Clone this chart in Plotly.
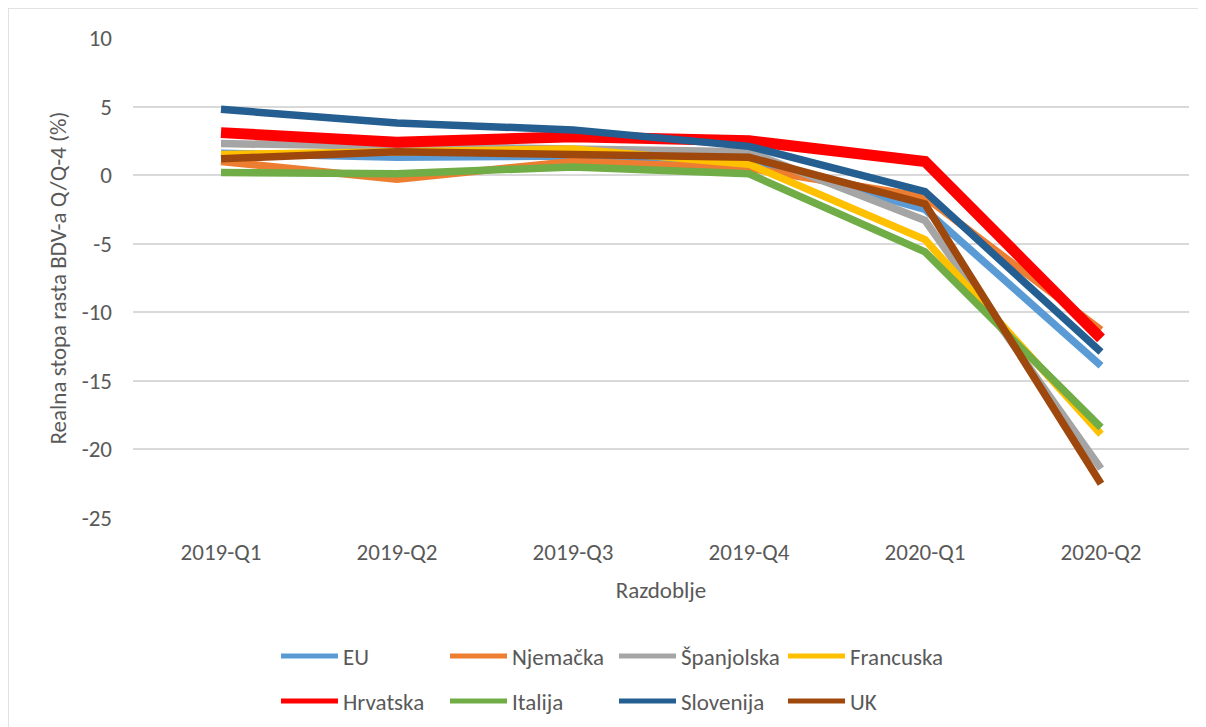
import plotly.graph_objects as go

# razdoblja (kategorije na x osi)
razdoblja = ["2019-Q1", "2019-Q2", "2019-Q3", "2019-Q4", "2020-Q1", "2020-Q2"]

# realna stopa rasta BDV-a Q/Q-4 (%), očitano sa slike
eu = [1.6, 1.3, 1.4, 1.1, -2.5, -13.9]
njemacka = [1.0, -0.3, 1.0, 0.5, -1.6, -11.3]
spanjolska = [2.3, 2.1, 1.9, 1.7, -3.3, -21.4]
francuska = [1.5, 1.7, 1.9, 0.8, -4.7, -18.9]
hrvatska = [3.1, 2.4, 2.8, 2.5, 1.0, -11.9]
italija = [0.2, 0.1, 0.6, 0.1, -5.6, -18.4]
slovenija = [4.8, 3.8, 3.3, 2.1, -1.2, -12.9]
uk = [1.2, 1.7, 1.5, 1.3, -2.1, -22.5]

y_tickovi = [-25, -20, -15, -10, -5, 0, 5, 10]
y_oznake = ["-25", "-20", "-15", "-10", "-5", "0", "5", "10"]

FONT = "Carlito, Lato, 'Liberation Sans', sans-serif"
SIVA = "#595959"
VEL = 23

serije = [
    ("EU", eu, "#5B9BD5", 7.5, "legend"),
    ("Njemačka", njemacka, "#ED7D31", 7.5, "legend"),
    ("Španjolska", spanjolska, "#A5A5A5", 7.5, "legend"),
    ("Francuska", francuska, "#FFC000", 7.5, "legend"),
    ("Hrvatska", hrvatska, "#FF0000", 11, "legend2"),
    ("Italija", italija, "#70AD47", 7.5, "legend2"),
    ("Slovenija", slovenija, "#255E91", 7.5, "legend2"),
    ("UK", uk, "#9E480E", 7.5, "legend2"),
]

fig = go.Figure()
for ime, vrijednosti, boja, debljina, leg in serije:
    fig.add_trace(go.Scatter(
        x=razdoblja,
        y=vrijednosti,
        mode="lines",
        name=ime,
        legend=leg,
        line=dict(color=boja, width=debljina),
    ))

# područje crtanja u pikselima zaslona (stranica ima 8 px margine tijela)
L, R, T, B = 133, 1189, 37, 519
W, H = R - L, B - T
OFF = 8


def px_x(p):
    return (p - L) / W


def px_y(p):
    return (B - p) / H


fig.add_shape(
    type="rect", xref="paper", yref="paper",
    x0=px_x(8), x1=px_x(1215), y0=px_y(745), y1=px_y(8),
    line=dict(color="#D9D9D9", width=1.5), layer="below",
)

leg_common = dict(
    orientation="h",
    itemwidth=57,
    entrywidth=97,
    entrywidthmode="pixels",
    xanchor="left",
    yanchor="middle",
    font=dict(family=FONT, size=VEL, color=SIVA),
    bgcolor="rgba(0,0,0,0)",
    itemsizing="constant",
)

fig.update_layout(
    width=1198,
    height=719,
    margin=dict(l=L - OFF, r=1198 - (R - OFF), t=T - OFF, b=719 - (B - OFF),
                autoexpand=False),
    paper_bgcolor="white",
    plot_bgcolor="white",
    font=dict(family=FONT, size=VEL, color=SIVA),
    xaxis=dict(
        type="category",
        range=[-0.5, 5.5],
        showgrid=False,
        showline=False,
        zeroline=False,
        ticks="",
        ticklabelstandoff=17,
        tickfont=dict(size=VEL, color=SIVA),
        title=dict(text="Razdoblje", standoff=16, font=dict(size=VEL, color=SIVA)),
    ),
    yaxis=dict(
        range=[-25.073, 10.073],
        tickvals=y_tickovi,
        ticktext=y_oznake,
        showgrid=True,
        gridcolor="#D9D9D9",
        gridwidth=1.5,
        zeroline=False,
        showline=False,
        ticks="",
        ticklabelstandoff=20,
        tickfont=dict(size=VEL, color=SIVA),
        title=dict(text="Realna stopa rasta BDV-a Q/Q-4 (%)", standoff=8,
                   font=dict(size=VEL, color=SIVA)),
    ),
    legend=dict(x=px_x(276), y=px_y(656), **leg_common),
    legend2=dict(x=px_x(276), y=px_y(701), **leg_common),
)

fig.write_html("out.html")
